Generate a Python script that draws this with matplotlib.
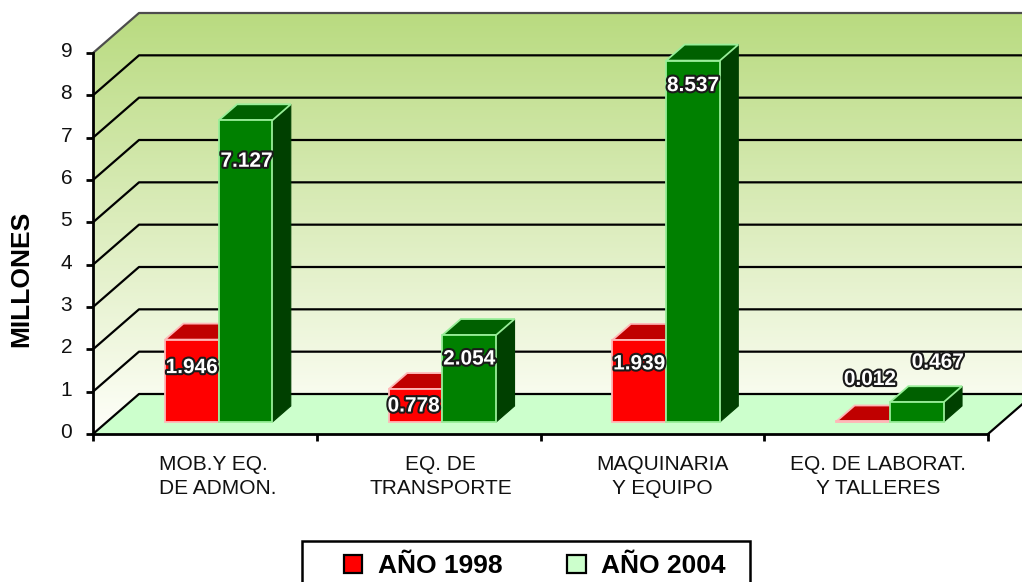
import numpy as np
import matplotlib
matplotlib.use('Agg')
import matplotlib.pyplot as plt
import matplotlib.patheffects as pe
import matplotlib.transforms as mtrans
from matplotlib.patches import Polygon, Patch, Rectangle

categories = ['MOB.Y EQ.\nDE ADMON.', 'EQ. DE\nTRANSPORTE', 'MAQUINARIA\nY EQUIPO', 'EQ. DE LABORAT.\nY TALLERES']
values_1998 = [1.946, 0.778, 1.939, 0.012]
values_2004 = [7.127, 2.054, 8.537, 0.467]
labels_1998 = ['1.946', '0.778', '1.939', '0.012']
labels_2004 = ['7.127', '2.054', '8.537', '0.467']
yticks = list(range(10))

# where the data labels sit, as pixels from the bar top
offsets_1998 = [-28, -17, -24, 42]
offsets_2004 = [-41, -24, -25, 40]
nudge_1998 = [0, -2, 0, 7]
nudge_2004 = [1, 0, 0, 21]
# category labels are not quite centred under the ticks in the source
label_shift = [13, 12, 10, 2]

plt.rcParams['font.family'] = ['Liberation Sans', 'DejaVu Sans']

W, H = 1022, 582
fig = plt.figure(figsize=(W / 100, H / 100), dpi=100)
ax = fig.add_axes([93 / W, 1 - 434 / H, 895 / W, 381 / H])
ax.set_xlim(0, 4)
ax.set_ylim(0, 9)

# depth of the fake 3d box, in data units
DX = 46 / (895 / 4)
DY = 40 / (381 / 9)
BAR_W = 0.24
D0, D1 = 0.3, 0.7


def proj(x, v, d=0.0):
    return (x + d * DX, v + d * DY)


def face(pts, **kw):
    p = Polygon(pts, closed=True, clip_on=False, **kw)
    ax.add_patch(p)
    return p


def bar3d(x0, v, front, top, side, edge, z):
    x1 = x0 + BAR_W
    a = proj(x0, 0, D0)
    b = proj(x1, 0, D0)
    c = proj(x1, v, D0)
    d = proj(x0, v, D0)
    e = proj(x1, v, D1)
    f = proj(x0, v, D1)
    g = proj(x1, 0, D1)
    face([b, g, e, c], facecolor=side, edgecolor=side, lw=0.8, zorder=z)
    face([d, c, e, f], facecolor=top, edgecolor=edge, lw=1.3, zorder=z)
    face([a, b, c, d], facecolor=front, edgecolor=edge, lw=1.3, zorder=z)


# back wall + side wall with the vertical gradient
top_col = np.array([185, 219, 128]) / 255
bot_col = np.array([255, 255, 250]) / 255
t = np.linspace(0, 1, 256)[:, None]
grad = (top_col * (1 - t) + bot_col * t)[:, None, :]
im = ax.imshow(grad, extent=(0, 4 + DX, 0, 9 + DY), origin='upper', aspect='auto', zorder=0)
wall_all = Polygon([proj(0, 0), proj(0, 0, 1), proj(4, 0, 1), proj(4, 9, 1), proj(0, 9, 1), proj(0, 9)],
                   closed=True, transform=ax.transData)
im.set_clip_box(fig.bbox)
im.set_clip_path(wall_all)
ax.set_xlim(0, 4)
ax.set_ylim(0, 9)

# floor
face([proj(0, 0), proj(4, 0), proj(4, 0, 1), proj(0, 0, 1)], facecolor='#CCFFCC', edgecolor='none', zorder=1)

# grid lines on side wall and back wall
for v in yticks:
    col = '#4d4d4d' if v == 9 else 'black'
    xs, ys = zip(proj(0, v), proj(0, v, 1), proj(4, v, 1))
    ax.plot(xs, ys, color=col, lw=1.6, clip_on=False, zorder=2)
xs, ys = zip(proj(4, 0), proj(4, 0, 1))
ax.plot(xs, ys, color='black', lw=1.6, clip_on=False, zorder=2)

# bars
for i in range(len(categories)):
    x_mid = i + 0.5
    bar3d(x_mid - BAR_W, values_1998[i], '#FF0000', '#C00000', '#800000', '#FFB8B8', 3 + i * 0.1)
    bar3d(x_mid, values_2004[i], '#008000', '#006000', '#004000', '#99EE99', 3.05 + i * 0.1)

# value labels
stroke = [pe.withStroke(linewidth=3, foreground='#1a1a1a')]
for i in range(len(categories)):
    x_mid = i + 0.5
    for x_c, v, lab, off, nudge in [
            (x_mid - BAR_W / 2, values_1998[i], labels_1998[i], offsets_1998[i], nudge_1998[i]),
            (x_mid + BAR_W / 2, values_2004[i], labels_2004[i], offsets_2004[i], nudge_2004[i])]:
        ax.annotate(lab, proj(x_c, v, D0), xytext=(nudge * 0.72, off * 0.72), textcoords='offset points',
                    ha='center', va='center', color='white', fontsize=15, fontweight='bold',
                    path_effects=stroke, zorder=6, annotation_clip=False)

# axes
ax.set_facecolor('none')
for s in ['top', 'right']:
    ax.spines[s].set_visible(False)
for s in ['left', 'bottom']:
    ax.spines[s].set_linewidth(2)
    ax.spines[s].set_zorder(5)
ax.set_yticks(yticks)
ax.set_xticks(range(5))
ax.set_xticklabels([])
ax.set_xticks(np.arange(4) + 0.5, categories, minor=True)
ax.tick_params(axis='x', which='major', length=5, width=2)
ax.tick_params(axis='x', which='minor', length=0, pad=15, labelsize=15, labelcolor='#111111')
ax.tick_params(axis='y', length=5, width=2, labelsize=15, pad=10, labelcolor='#111111')
for lab, shift in zip(ax.get_xticklabels(minor=True), label_shift):
    lab.set_linespacing(1.37)
    lab.set_transform(lab.get_transform() + mtrans.ScaledTranslation(shift / 100, 0, fig.dpi_scale_trans))
ax.get_xticklabels(minor=True)[0].set_multialignment('left')
lift = mtrans.ScaledTranslation(0, 3.5 / 100, fig.dpi_scale_trans)
for lab in ax.get_yticklabels():
    lab.set_transform(lab.get_transform() + lift)
ax.set_ylabel('MILLONES', fontsize=19, fontweight='bold')
ax.yaxis.set_label_coords(33 / W, 1 - 279 / H, transform=fig.transFigure)

# legend, its lower edge runs off the picture as in the source
fig.add_artist(Rectangle((302 / W, -6 / H), 448 / W, (582 - 541 + 6) / H, transform=fig.transFigure,
                         facecolor='white', edgecolor='black', lw=1.8))
handles = [Patch(facecolor='#FF0000', edgecolor='black', lw=1.6),
           Patch(facecolor='#CCFFCC', edgecolor='black', lw=1.6)]
leg = fig.legend(handles, ['AÑO 1998', 'AÑO 2004'], ncols=2, loc='upper left',
                 bbox_to_anchor=(344 / W, 1 - 554 / H), bbox_transform=fig.transFigure,
                 prop={'weight': 'bold', 'size': 19}, frameon=False,
                 handlelength=0.7, handleheight=0.7,
                 handletextpad=0.58, columnspacing=2.46, borderaxespad=0, borderpad=0)

fig.savefig('out.png', dpi=100)
